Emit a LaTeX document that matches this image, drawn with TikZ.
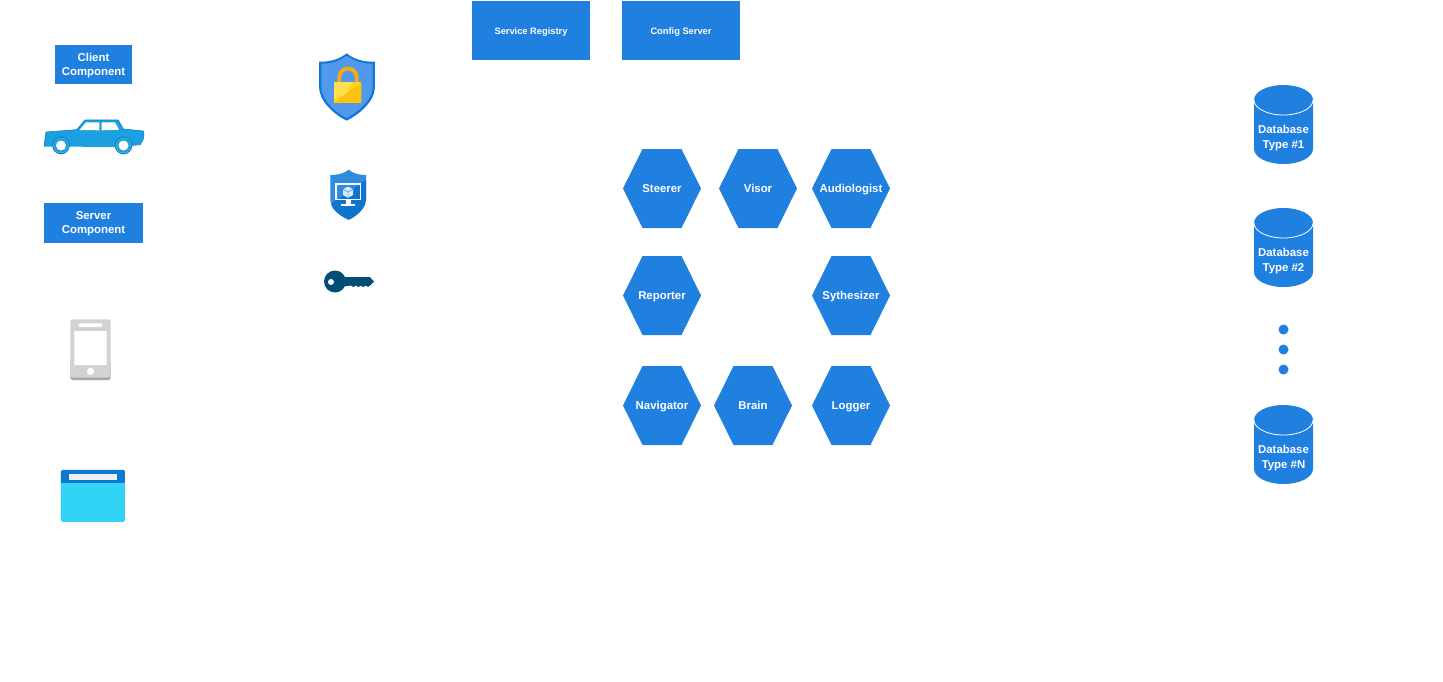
\documentclass[tikz,border=0pt]{standalone}
\usepackage{fontspec}
\setmainfont{Liberation Sans}
\definecolor{mainblue}{HTML}{2080E0}
\definecolor{carblue}{HTML}{1BA1E2}
\definecolor{caredge}{HTML}{0F78C4}
\definecolor{shieldedge}{HTML}{1278D8}
\definecolor{shieldin}{HTML}{5199EC}
\definecolor{lockor}{HTML}{FFA90F}
\definecolor{lockye}{HTML}{FFD21E}
\definecolor{lockli}{HTML}{FFE14D}
\definecolor{lockda}{HTML}{FFC20A}
\definecolor{shtwo}{HTML}{2E8BDF}
\definecolor{shtwod}{HTML}{0F74CC}
\definecolor{keyblue}{HTML}{004E78}
\definecolor{phone}{HTML}{D2D2D2}
\definecolor{phoned}{HTML}{A6A6A6}
\definecolor{wincy}{HTML}{32D4F5}
\definecolor{wintop}{HTML}{0A78D4}
\tikzset{
  txt/.style={text=white,font=\fontsize{11.4}{14}\selectfont\bfseries,align=center,inner sep=0pt},
  hextxt/.style={txt,text height=8pt,text depth=2pt},
  dbtxt/.style={text=white,font=\fontsize{11.4}{15}\selectfont\bfseries,align=center,inner sep=0pt},
  smalltxt/.style={text=white,font=\fontsize{9.3}{12}\selectfont\bfseries,align=center,inner sep=0pt,text height=7pt,text depth=2pt},
  zoomed/.style={x=0.3333pt,y=-0.3333pt}
}
\newcommand{\boxn}[7]{% name, x1,y1,x2,y2,style,text
  \fill[mainblue] (#2,#3) rectangle (#4,#5);
  \node[#6] (#1) at ({(#2+#4)/2},{(#3+#5)/2+1}) {#7};}
\newcommand{\hexn}[4]{% name, cx, cy, text
  \fill[mainblue] (#2-39,#3) -- (#2-19.5,#3-39.5) -- (#2+19.5,#3-39.5) -- (#2+39,#3) -- (#2+19.5,#3+39.5) -- (#2-19.5,#3+39.5) -- cycle;
  \node[hextxt] (#1) at (#2,#3+0.5) {#4};}
\newcommand{\dbn}[4]{% name, cx, top, text
  \fill[mainblue] (#2-29.5,#3+15) arc[start angle=180,end angle=0,x radius=29.5,y radius=-15] -- (#2+29.5,#3+64) arc[start angle=0,end angle=180,x radius=29.5,y radius=15] -- cycle;
  \draw[white,line width=0.8pt] (#2-29.5,#3+15) arc[start angle=180,end angle=0,x radius=29.5,y radius=15];
  \node[dbtxt] (#1) at (#2,#3+53.5) {#4};}
\begin{document}
\begin{tikzpicture}[x=1pt,y=-1pt]
\useasboundingbox (0,0) rectangle (1443,681);
\fill[white] (0,0) rectangle (1443,681);

% labelled boxes
\boxn{client}{55}{45}{132}{84}{txt}{Client\\Component}
\boxn{server}{44}{203}{143}{243}{txt}{Server\\Component}
\boxn{registry}{472}{1}{590}{60}{smalltxt}{Service Registry}
\boxn{config}{622}{1}{740}{60}{smalltxt}{Config Server}

% hexagons
\hexn{steerer}{662}{188.5}{Steerer}
\hexn{visor}{758}{188.5}{Visor}
\hexn{audiologist}{851}{188.5}{Audiologist}
\hexn{reporter}{662}{295.5}{Reporter}
\hexn{sythesizer}{851}{295.5}{Sythesizer}
\hexn{navigator}{662}{405.5}{Navigator}
\hexn{brain}{753}{405.5}{Brain}
\hexn{logger}{851}{405.5}{Logger}

% databases
\dbn{dbone}{1283.5}{85}{Database\\Type \#1}
\dbn{dbtwo}{1283.5}{208}{Database\\Type \#2}
\dbn{dbn}{1283.5}{405}{Database\\Type \#N}
\fill[mainblue] (1283.5,329.5) circle[radius=5] (1283.5,349.5) circle[radius=5] (1283.5,369.5) circle[radius=5];

% car
\fill[carblue,line join=round] (44,146.5) -- (46,132) -- (76.7,129.7) -- (85,120) -- (118.3,120) -- (123.3,129) -- (143.3,131) -- (144,134) -- (143.3,139) -- (140,145) -- (123,147) -- cycle;
\draw[caredge,line width=0.6pt,line join=round] (44,146.5) -- (46,132) -- (76.7,129.7) -- (85,120) -- (118.3,120) -- (123.3,129) -- (143.3,131) -- (144,134) -- (143.3,139) -- (140,145);
\fill[white] (79.5,130) -- (86,122.3) -- (99.3,122.3) -- (99.3,130.3) -- cycle;
\fill[white] (101.7,122.3) -- (115,122.3) -- (119,129.7) -- (101.7,130.3) -- cycle;
\foreach \wx in {61,123.5} {
  \fill[caredge] (\wx,145.5) circle[radius=8.8];
  \fill[carblue!70!white] (\wx,145.5) circle[radius=7.8];
  \fill[carblue] (\wx,145.5) circle[radius=7.2];
  \fill[white] (\wx,145.5) circle[radius=5];
}

% phone
\begin{scope}[shift={(50,310)},zoomed]
  \fill[phoned,rounded corners=2.5pt] (61,150) rectangle (182,210);
  \fill[phone,rounded corners=2.5pt] (61,28) rectangle (182,203);
  \fill[white,rounded corners=0.5pt] (73,63) rectangle (170,165);
  \fill[white,rounded corners=1.5pt] (85,40) rectangle (158,51);
  \fill[white] (122,184) circle[radius=11];
\end{scope}

% window
\begin{scope}[shift={(50,310)},zoomed]
  \fill[wincy,rounded corners=1.5pt] (33,490) rectangle (225,636);
  \fill[wintop,rounded corners=1.5pt] (33,480) rectangle (225,525);
  \fill[wincy] (33,520) rectangle (225,530);
  \fill[white!94!black] (58,492) rectangle (200,509);
\end{scope}

% lock shield
\begin{scope}[shift={(300,40)},zoomed]
  \fill[shieldedge] (140,40) .. controls (115,60) and (85,66) .. (57,65) -- (57,140) .. controls (57,185) and (105,225) .. (140,242) .. controls (175,225) and (225,185) .. (225,140) -- (225,65) .. controls (195,66) and (165,60) .. (140,40) -- cycle;
  \fill[shieldin] (140,47) .. controls (115,66) and (88,72) .. (64,71) -- (64,140) .. controls (64,180) and (108,218) .. (140,234) .. controls (172,218) and (218,180) .. (218,140) -- (218,71) .. controls (192,72) and (165,66) .. (140,47) -- cycle;
\end{scope}
\draw[lockor,line width=3.8pt] (339.2,84) -- (339.2,77.4) arc[start angle=180,end angle=0,x radius=8.8,y radius=-8.8] -- (356.8,84);
\fill[lockye] (334,82) rectangle (361.3,102.7);
\fill[lockli] (334,82) -- (352,82) -- (347,93) -- (334,100) -- cycle;
\fill[lockda] (334,102.7) -- (347,93) -- (361.3,84) -- (361.3,102.7) -- cycle;

% monitor shield
\fill[shtwo] (348.7,169.7) .. controls (343,174) and (337,175) .. (330.3,175) -- (330.3,199) .. controls (330.3,209) and (342,217) .. (348.7,219.7) .. controls (355,217) and (366,209) .. (366,199) -- (366,175) .. controls (360,175) and (354,174) .. (348.7,169.7) -- cycle;
\fill[shtwod] (366,180) -- (366,199) .. controls (366,209) and (355,217) .. (348.7,219.7) .. controls (342,217) and (333,211) .. (331,204) -- cycle;
\draw[white,line width=1.6pt] (336.2,183.8) rectangle (360.5,199.5);
\fill[white] (345.5,200) rectangle (350.5,204.5);
\fill[white] (341.3,204) rectangle (355.3,206);
\fill[white!82!shtwo] (348,186.5) -- (353,189.2) -- (353,195) -- (348,197.8) -- (343,195) -- (343,189.2) -- cycle;
\draw[shtwo,line width=0.5pt] (343,189.2) -- (348,192) -- (353,189.2) (348,192) -- (348,197.8);

% key
\fill[keyblue] (335,281.5) circle[radius=11];
\fill[keyblue] (343,277.2) -- (370,277.2) -- (374,281.5) -- (370,285.5) -- (368,287) -- (366,285.5) -- (363,287) -- (361,285.5) -- (358,287) -- (356,285.5) -- (353,287) -- (351,285.5) -- (343,286.5) -- cycle;
\fill[white] (331,282) circle[radius=3];
\end{tikzpicture}
\end{document}
